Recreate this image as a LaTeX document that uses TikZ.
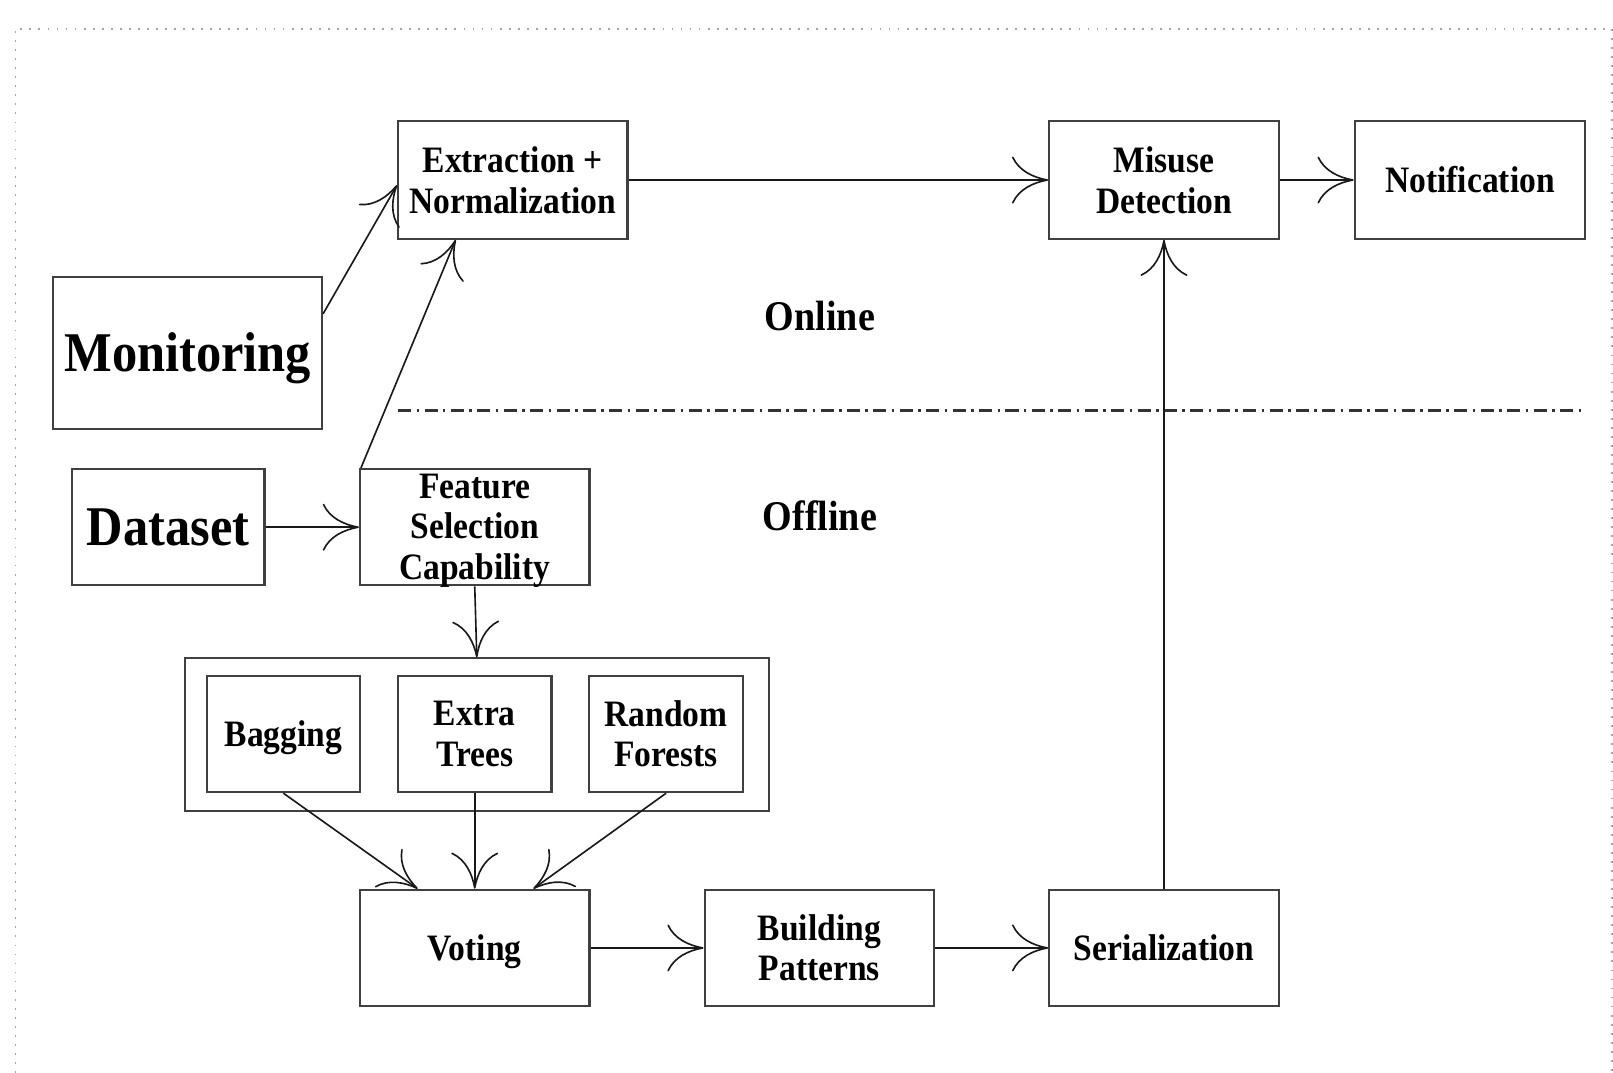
\documentclass[tikz,border=0pt]{standalone}
\usepackage{fontspec}
\setmainfont{Liberation Serif}
\newfontfamily\narrowserif{Liberation Serif}[FakeStretch=0.9]
\newcommand\boxfont{\narrowserif\bfseries\fontsize{10.3}{11.2}\selectfont}
\newcommand\bigfont{\narrowserif\bfseries\fontsize{15.5}{17}\selectfont}
\newcommand\zonefont{\narrowserif\bfseries\fontsize{11.7}{13}\selectfont}
\newcommand\lowered[2]{\raisebox{-#1}[\height][\depth]{#2}}
\usetikzlibrary{arrows.meta}
\begin{document}
\begin{tikzpicture}[x=0.01cm,y=-0.01cm,
  box/.style={draw=black!75,line width=0.6pt,inner sep=0pt,align=center,font=\boxfont,
    minimum width=2.23cm,minimum height=1.13cm},
  smallbox/.style={box,minimum width=1.49cm,minimum height=1.13cm},
  bigbox/.style={box,font=\bigfont},
  zone/.style={inner sep=0pt,font=\zonefont},
  arr/.style={draw=black!90,line width=0.45pt,-{Computer Modern Rightarrow[length=10pt,width=13pt]}},
  frame/.style={draw=black!35,line width=0.5pt,dash pattern=on 0.5pt off 2pt},
  split/.style={draw=black!80,line width=0.6pt,dash pattern=on 3.6pt off 1.5pt on 0.7pt off 1.5pt}
]
\useasboundingbox (0,0) rectangle (1568,1043);
\draw[frame] (15,1043) -- (15,28) -- (1567,28) -- (1567,1043);

% online row
\node[box,minimum height=1.14cm] (ext) at (498.5,175) {Extraction +\\Normalization};
\node[box,minimum height=1.14cm] (mis) at (1131.5,175) {Misuse\\Detection};
\node[box,minimum width=2.24cm,minimum height=1.14cm] (notif) at (1429,175) {Notification};
\node[bigbox,minimum width=2.61cm,minimum height=1.48cm] (mon) at (182.5,343) {\lowered{1.4pt}{Monitoring}};

\node[zone] (online) at (797,307) {Online};
\node[zone] (offline) at (797,501) {Offline};
\coordinate (splitL) at (387,399);
\coordinate (splitR) at (1537,399);
\draw[split] (splitL) -- (splitR);

% offline
\node[bigbox,minimum width=1.87cm,minimum height=1.13cm] (data) at (163.5,512.5) {Dataset};
\node[box] (feat) at (461.5,512.5) {\raisebox{-3.5pt}[0pt][0pt]{\begin{tabular}{@{}c@{}}Feature\\Selection\\Capability\end{tabular}}};

\node[box,minimum width=5.67cm,minimum height=1.48cm] (group) at (463.5,714) {};
\node[smallbox] (bag) at (275.5,713.5) {\lowered{0.9pt}{Bagging}};
\node[smallbox] (extra) at (461.5,713.5) {Extra\\Trees};
\node[smallbox] (rf) at (647.5,713.5) {Random\\Forests};

\node[box] (vote) at (461.5,921.5) {\lowered{0.9pt}{Voting}};
\node[box] (build) at (796.5,921.5) {Building\\Patterns};
\node[box] (ser) at (1131.5,921.5) {Serialization};

% connectors
\draw[arr] (mon.east |- 0,305) -- (ext.west |- 0,180);
\draw[arr] ([xshift=0.02cm]feat.north west) -- ([xshift=-0.555cm]ext.south);
\draw[arr] (ext.east) -- (mis.west);
\draw[arr] (mis.east) -- (notif.west);
\draw[arr] (ser.north) -- (mis.south);
\draw[arr] (data.east) -- (feat.west);
\draw[arr] (feat.south) -- (group.north);
\draw[arr] (bag.south) -- ([xshift=-0.555cm]vote.north);
\draw[arr] (extra.south) -- (vote.north);
\draw[arr] (rf.south) -- ([xshift=0.57cm]vote.north);
\draw[arr] (vote.east) -- (build.west);
\draw[arr] (build.east) -- (ser.west);
\end{tikzpicture}
\end{document}
